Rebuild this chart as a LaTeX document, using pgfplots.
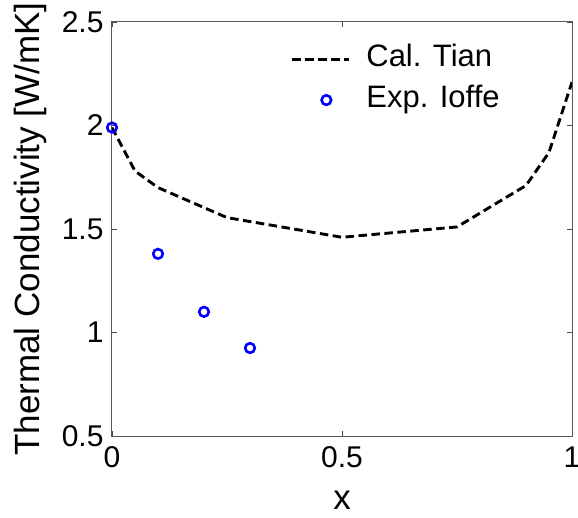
\documentclass[border=0pt]{standalone}
\usepackage{fontspec}
\setmainfont{Liberation Sans}
\usepackage{pgfplots}
\pgfplotsset{compat=1.18}
\pgfplotsset{
  mylineleg/.style={legend image code/.code={\draw[##1] (0pt,0pt) -- (57pt,0pt); \path[draw=none] (0pt,0pt) -- (72pt,0pt);}},
  mymarkleg/.style={legend image code/.code={\draw[mark repeat=2,mark phase=2,##1] plot coordinates {(0pt,0pt) (34pt,0pt) (72pt,0pt)};}},
}
\begin{document}
\begin{tikzpicture}
\begin{axis}[name=ax, scale only axis, width=460pt, height=414pt,
  xmin=0, xmax=1, ymin=0.5, ymax=2.5,
  xtick={0,0.5,1}, ytick={0.5,1,1.5,2,2.5},
  xticklabels={0,0.5,1}, yticklabels={0.5,1,1.5,2,2.5},
  tick align=inside, major tick length=5pt,
  tick style={black!70, line width=0.8pt},
  axis line style={black!65, line width=1pt},
  ticklabel style={font=\fontsize{30}{36}\selectfont},
  xticklabel style={yshift=-7pt},
  yticklabel style={xshift=-5pt},
  label style={font=\fontsize{35}{42}\selectfont},
  xlabel={x}, ylabel={Thermal Conductivity [W/mK]},
  xlabel style={at={(axis description cs:0.5,-0.1787)}, anchor=base},
  ylabel style={at={(axis description cs:-0.157,0.5)}, anchor=base},
  legend style={draw=none, fill=none, font=\fontsize{31}{37}\selectfont,
    at={(axis description cs:0.382,0.958)}, anchor=north west,
    legend cell align=left, /tikz/row sep=6pt,
    nodes={inner sep=2pt, text height=23pt, text depth=8pt}},
]
\addplot[black, line width=2.9pt, dash pattern=on 8.5pt off 4.5pt, mylineleg]
  coordinates {(0,1.99) (0.05,1.78) (0.1,1.70) (0.25,1.555) (0.5,1.46) (0.75,1.51) (0.9,1.71) (0.95,1.87) (1,2.21)};
\addlegendentry{Cal. Tian}
\addplot[only marks, mark=o, mark size=4.8pt, blue, line width=2.6pt, mymarkleg]
  coordinates {(0,1.99) (0.1,1.38) (0.2,1.10) (0.3,0.925)};
\addlegendentry{Exp. Ioffe}
\end{axis}
\pgfresetboundingbox
\path[use as bounding box] ([xshift=-112pt,yshift=-81pt]ax.south west) rectangle ([xshift=6pt,yshift=22pt]ax.north east);
\end{tikzpicture}
\end{document}
